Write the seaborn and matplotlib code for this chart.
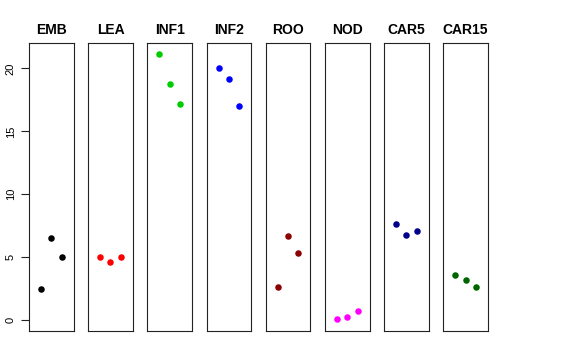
import matplotlib
matplotlib.use("Agg")
import matplotlib.pyplot as plt
import seaborn as sns
import pandas as pd

sns.set_theme(style="white")
plt.rcParams['font.family'] = ['Liberation Sans', 'DejaVu Sans']
plt.rcParams['text.color'] = 'black'
plt.rcParams['ytick.color'] = 'black'
plt.rcParams['ytick.labelcolor'] = 'black'

tissues = ["EMB", "LEA", "INF1", "INF2", "ROO", "NOD", "CAR5", "CAR15"]
replicate = [1, 2, 3]
EMB = [2.46, 6.54, 4.98]
LEA = [5.03, 4.64, 4.98]
INF1 = [21.17, 18.78, 17.19]
INF2 = [20.06, 19.16, 17.04]
ROO = [2.60, 6.70, 5.35]
NOD = [0.08, 0.24, 0.74]
CAR5 = [7.63, 6.78, 7.07]
CAR15 = [3.60, 3.15, 2.60]
colors = ["#000000", "#FF0000", "#00CD00", "#0000FF", "#8B0000", "#FF00FF", "#00008B", "#006400"]
yticks = [0, 5, 10, 15, 20]

values = [EMB, LEA, INF1, INF2, ROO, NOD, CAR5, CAR15]
rows = []
for t, vals in zip(tissues, values):
    for r, v in zip(replicate, vals):
        rows.append({"tissue": t, "rep": r, "value": v})
df = pd.DataFrame(rows)

fig, axes = plt.subplots(1, 8, figsize=(5.76, 3.6), dpi=100, sharey=True)
fig.subplots_adjust(left=0.0503, right=0.847, top=0.881, bottom=0.0806, wspace=0.327)

for ax, t, c in zip(axes, tissues, colors):
    sub = df[df["tissue"] == t]
    sns.scatterplot(data=sub, x="rep", y="value", ax=ax, color=c, s=22,
                    edgecolor=c, linewidth=0, legend=False)
    ax.set_xlim(-0.16, 4.16)
    ax.set_ylim(-0.87, 22.04)
    ax.set_xticks([])
    ax.set_xlabel("")
    ax.set_ylabel("")
    ax.set_title(t, fontsize=10, fontweight="bold", pad=6.5, color="black")
    for sp in ax.spines.values():
        sp.set_visible(True)
        sp.set_color("#222222")
        sp.set_linewidth(0.8)
    ax.tick_params(axis="y", left=False, labelleft=False)

ax0 = axes[0]
ax0.set_yticks(yticks)
ax0.tick_params(axis="y", left=True, labelleft=True, length=5.5, width=0.8,
                color="#222222", labelcolor="black", labelsize=8, pad=4,
                labelrotation=90)
for lab in ax0.get_yticklabels():
    lab.set_verticalalignment("center")

fig.savefig("out.png", dpi=100)
